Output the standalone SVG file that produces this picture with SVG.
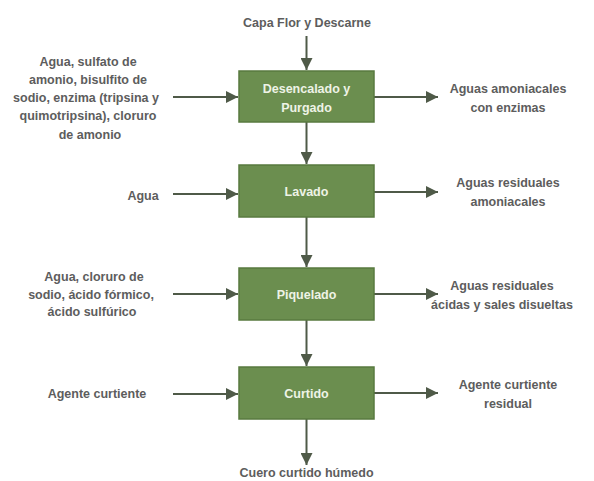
<svg xmlns="http://www.w3.org/2000/svg" width="594" height="481" viewBox="0 0 594 481">
<style>
.box{fill:#6b8e4f;stroke:#587a3f;stroke-width:1.5}
.bt{font-family:"Liberation Sans",Arial,sans-serif;font-weight:bold;font-size:12.5px;fill:#eef3e6;text-anchor:middle}
.lt{font-family:"Liberation Sans",Arial,sans-serif;font-weight:bold;font-size:12.5px;fill:#5d5d5d;text-anchor:middle}
.c{stroke:#4f5a48;stroke-width:2;fill:none;marker-end:url(#ah)}
</style>
<defs>
<marker id="ah" viewBox="0 0 10 10" refX="10" refY="5" markerWidth="6" markerHeight="6" orient="auto" markerUnits="strokeWidth">
<path d="M0,0 L10,5 L0,10 z" fill="#4f5a48"/>
</marker>
</defs>
<rect width="594" height="481" fill="#ffffff"/>
<g id="connectors">
<line class="c" x1="306.5" y1="36" x2="306.5" y2="70"/>
<line class="c" x1="173" y1="97" x2="238" y2="97"/>
<line class="c" x1="374" y1="97" x2="438" y2="97"/>
<line class="c" x1="306.5" y1="122" x2="306.5" y2="164"/>
<line class="c" x1="173" y1="194" x2="238" y2="194"/>
<line class="c" x1="374" y1="192" x2="438" y2="192"/>
<line class="c" x1="306.5" y1="217" x2="306.5" y2="267"/>
<line class="c" x1="173" y1="294" x2="238" y2="294"/>
<line class="c" x1="374" y1="294" x2="438" y2="294"/>
<line class="c" x1="306.5" y1="320" x2="306.5" y2="366"/>
<line class="c" x1="173" y1="394" x2="238" y2="394"/>
<line class="c" x1="374" y1="393" x2="438" y2="393"/>
<line class="c" x1="306.5" y1="419" x2="306.5" y2="465"/>
</g>
<g id="input-top"><text class="lt" x="307" y="27">Capa Flor y Descarne</text></g>
<g id="desencalado">
<rect class="box" x="239" y="71" width="135" height="51"/>
<text class="bt" x="306.5" y="93">Desencalado y</text>
<text class="bt" x="306.5" y="112">Purgado</text>
</g>
<g id="input-1">
<text class="lt" x="88" y="66">Agua, sulfato de</text>
<text class="lt" x="88" y="84">amonio, bisulfito de</text>
<text class="lt" x="86" y="102">sodio, enzima (tripsina y</text>
<text class="lt" x="88" y="120">quimotripsina), cloruro</text>
<text class="lt" x="90" y="139">de amonio</text>
</g>
<g id="output-1">
<text class="lt" x="508" y="93">Aguas amoniacales</text>
<text class="lt" x="508" y="112">con enzimas</text>
</g>
<g id="lavado">
<rect class="box" x="239" y="165" width="135" height="52"/>
<text class="bt" x="306.5" y="196">Lavado</text>
</g>
<g id="input-2"><text class="lt" x="143" y="200">Agua</text></g>
<g id="output-2">
<text class="lt" x="508" y="187">Aguas residuales</text>
<text class="lt" x="508" y="206">amoniacales</text>
</g>
<g id="piquelado">
<rect class="box" x="239" y="268" width="135" height="52"/>
<text class="bt" x="306.5" y="299">Piquelado</text>
</g>
<g id="input-3">
<text class="lt" x="94" y="281">Agua, cloruro de</text>
<text class="lt" x="91" y="299">sodio, ácido fórmico,</text>
<text class="lt" x="92" y="316">ácido sulfúrico</text>
</g>
<g id="output-3">
<text class="lt" x="502" y="290">Aguas residuales</text>
<text class="lt" x="502" y="309">ácidas y sales disueltas</text>
</g>
<g id="curtido">
<rect class="box" x="239" y="367" width="135" height="52"/>
<text class="bt" x="306.5" y="398">Curtido</text>
</g>
<g id="input-4"><text class="lt" x="97" y="398">Agente curtiente</text></g>
<g id="output-4">
<text class="lt" x="508" y="389">Agente curtiente</text>
<text class="lt" x="508" y="408">residual</text>
</g>
<g id="output-final"><text class="lt" x="306.5" y="477">Cuero curtido húmedo</text></g>
</svg>
